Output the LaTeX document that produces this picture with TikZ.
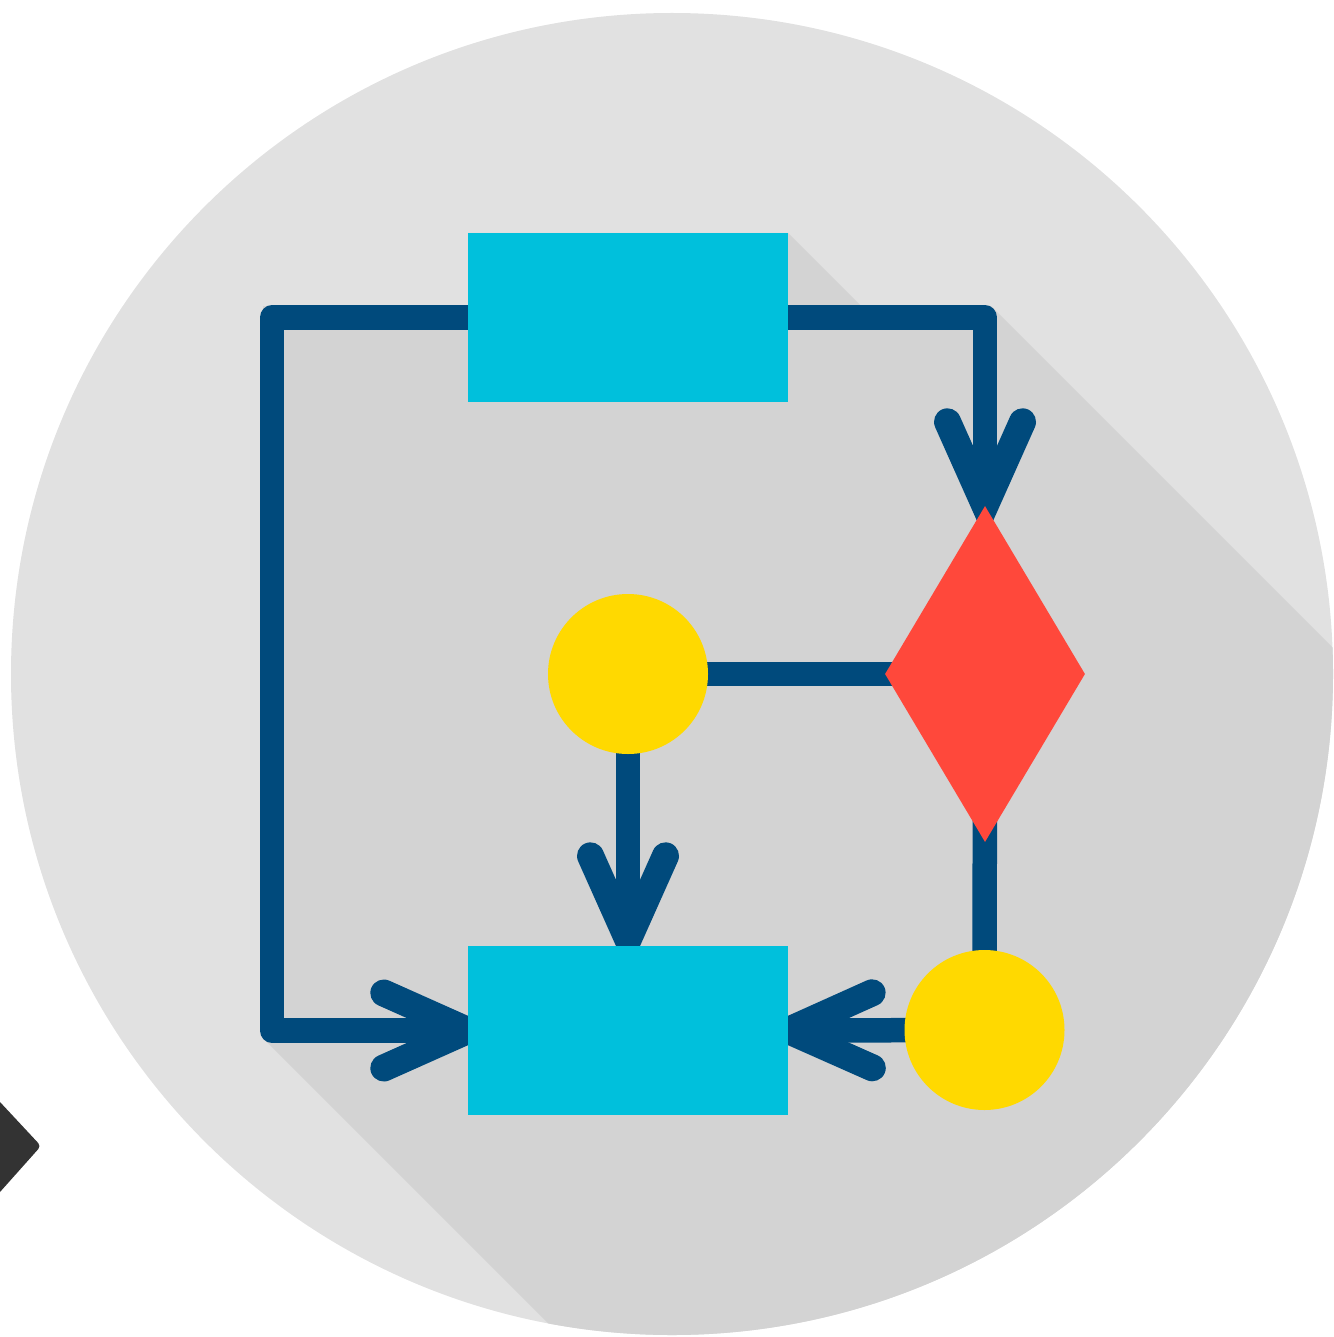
\documentclass[tikz,border=0pt]{standalone}
\usepackage{xcolor}
\usetikzlibrary{shapes.geometric, backgrounds}

\definecolor{discgray}{HTML}{E1E1E1}
\definecolor{shadowgray}{HTML}{D3D3D3}
\definecolor{boxcyan}{HTML}{00C0DC}
\definecolor{linknavy}{HTML}{004A7C}
\definecolor{decisionred}{HTML}{FF483B}
\definecolor{joinyellow}{HTML}{FFD900}
\definecolor{cornerdark}{HTML}{333333}

\tikzset{
  boxnode/.style={rectangle,fill=boxcyan,inner sep=0pt,minimum width=320pt,minimum height=169pt},
  joinnode/.style={circle,fill=joinyellow,inner sep=0pt,minimum size=160pt},
  decisionnode/.style={diamond,fill=decisionred,inner sep=0pt,shape aspect=0.595,minimum width=200pt,minimum height=336pt},
  link/.style={draw=linknavy,line width=24.5pt,line join=round},
  linkhead/.pic={\draw[link,line width=27pt,line join=miter,line cap=round] (-84,-37.5) -- (0,0) -- (-84,37.5);},
  headpos/.style={pos=#1,sloped,allow upside down}
}

\begin{document}
\begin{tikzpicture}[x=1pt,y=-1pt]
  \useasboundingbox (0,0) rectangle (1333,1337);

  % Flow chart shapes
  \node[boxnode] (flowtop) at (628,317.5) {};
  \node[boxnode] (flowbottom) at (628,1030.5) {};
  \node[decisionnode] (decision) at (985,674) {};
  \node[joinnode] (joinmid) at (628,674) {};
  \node[joinnode] (joinlow) at (984.5,1030) {};

  % Bends of the outer lines
  \coordinate (bendleftup) at (272,317.5);
  \coordinate (bendleftdown) at (272,1030.5);
  \coordinate (bendright) at (985,317.5);

  \begin{scope}[on background layer]
    % Disc and its long shadow
    \fill[discgray] (672,674) circle (661);
    \begin{scope}
      \clip (672,674) circle (661);
      \fill[shadowgray] (788,233) -- (861,306) -- (991,306) -- (997,312) -- (1340,655)
        -- (1340,1340) -- (565,1340) -- (263,1038) -- (263,306) -- (468,306) -- (468,233) -- cycle;
    \end{scope}

    % Connectors
    \draw[link] (flowtop.center) -- (bendright) -- (decision.north) pic[headpos=1] {linkhead};
    \draw[link] (flowtop.center) -- (bendleftup) -- (bendleftdown) -- (flowbottom.west) pic[headpos=1] {linkhead};
    \draw[link] (joinmid.center) -- (decision.center);
    \draw[link] (joinmid.center) -- (flowbottom.north) pic[headpos=0.978] {linkhead};
    \draw[link] (decision.center) -- (joinlow.center);
    \draw[link] (joinlow.center) -- (flowbottom.east) pic[headpos=1] {linkhead};
  \end{scope}

  % Dark corner cut at the left edge
  \fill[cornerdark] (0,1102) [rounded corners=4pt] -- (41,1146) [sharp corners] -- (0,1192) -- cycle;
\end{tikzpicture}
\end{document}
